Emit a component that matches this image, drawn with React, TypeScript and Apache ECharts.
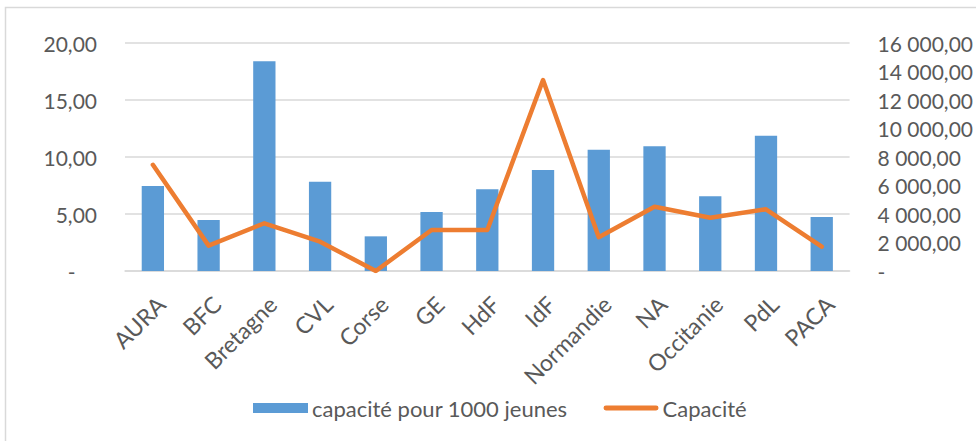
import React, { useEffect, useRef } from "react";
import * as echarts from "echarts";

const categories = ["AURA", "BFC", "Bretagne", "CVL", "Corse", "GE", "HdF", "IdF", "Normandie", "NA", "Occitanie", "PdL", "PACA"];
const capacitePour1000 = [7.46, 4.47, 18.4, 7.83, 3.04, 5.18, 7.17, 8.86, 10.64, 10.95, 6.55, 11.87, 4.74];
const capacite = [7450, 1780, 3350, 2060, 0, 2880, 2880, 13400, 2370, 4510, 3740, 4330, 1710];
const leftTicks = { min: 0, max: 20, interval: 5 };
const rightTicks = { min: 0, max: 16000, interval: 2000 };

const FONT = "Lato";
const TXT = "#595959";

function fmtLeft(v: number) {
  if (v === 0) return "-    ";
  return v.toFixed(2).replace(".", ",");
}
function fmtRight(v: number) {
  if (v === 0) return "-";
  const [i, d] = v.toFixed(2).split(".");
  return i.replace(/\B(?=(\d{3})+(?!\d))/g, " ") + "," + d;
}

export default function App() {
  const ref = useRef<HTMLDivElement>(null);
  useEffect(() => {
    if (!ref.current) return;
    const chart = echarts.init(ref.current, undefined, { renderer: "svg" });
    chart.setOption({
      animation: false,
      textStyle: { fontFamily: FONT },
      graphic: [
        {
          type: "rect",
          shape: { x: 5.5, y: 7.5, width: 1000, height: 500 },
          style: { fill: "none", stroke: "#d9d9d9", lineWidth: 1.5 },
          silent: true,
        },
      ],
      grid: { left: 125, right: 125, top: 43, bottom: 170, containLabel: false },
      legend: {
        left: 248,
        top: 392,
        itemWidth: 55,
        itemHeight: 10,
        itemGap: 36,
        textStyle: { fontFamily: FONT, fontSize: 22, color: TXT, padding: [0, 0, 0, -1] },
        data: [
          { name: "capacité pour 1000 jeunes", icon: "rect" },
          { name: "Capacité", icon: "path://M2.5,0 L54.5,0 A2.5,2.5 0 0 1 54.5,5 L2.5,5 A2.5,2.5 0 0 1 2.5,0 Z" },
        ],
      },
      xAxis: {
        type: "category",
        data: categories,
        axisLine: { lineStyle: { color: "#d9d9d9", width: 1.5 } },
        axisTick: { show: false },
        axisLabel: {
          rotate: 45,
          margin: 21,
          fontSize: 23,
          color: TXT,
          fontFamily: FONT,
          interval: 0,
          verticalAlign: "top",
        },
      },
      yAxis: [
        {
          type: "value",
          ...leftTicks,
          axisLine: { show: false },
          axisTick: { show: false },
          splitLine: { lineStyle: { color: "#d9d9d9", width: 1.5 } },
          axisLabel: { formatter: fmtLeft, fontSize: 21, color: TXT, fontFamily: FONT, margin: 28 },
        },
        {
          type: "value",
          ...rightTicks,
          axisLine: { show: false },
          axisTick: { show: false },
          splitLine: { show: false },
          axisLabel: { formatter: fmtRight, fontSize: 21, color: TXT, fontFamily: FONT, margin: 28 },
        },
      ],
      series: [
        {
          name: "capacité pour 1000 jeunes",
          type: "bar",
          data: capacitePour1000,
          barWidth: "40%",
          itemStyle: { color: "#5B9BD5" },
        },
        {
          name: "Capacité",
          type: "line",
          yAxisIndex: 1,
          data: capacite,
          symbol: "none",
          lineStyle: { color: "#ED7D31", width: 4.5, cap: "round", join: "round" },
          itemStyle: { color: "#ED7D31" },
        },
      ],
    });
    return () => chart.dispose();
  }, []);
  return <div ref={ref} style={{ position: "fixed", left: 0, top: 0, width: 976, height: 441, background: "#fff" }} />;
}
